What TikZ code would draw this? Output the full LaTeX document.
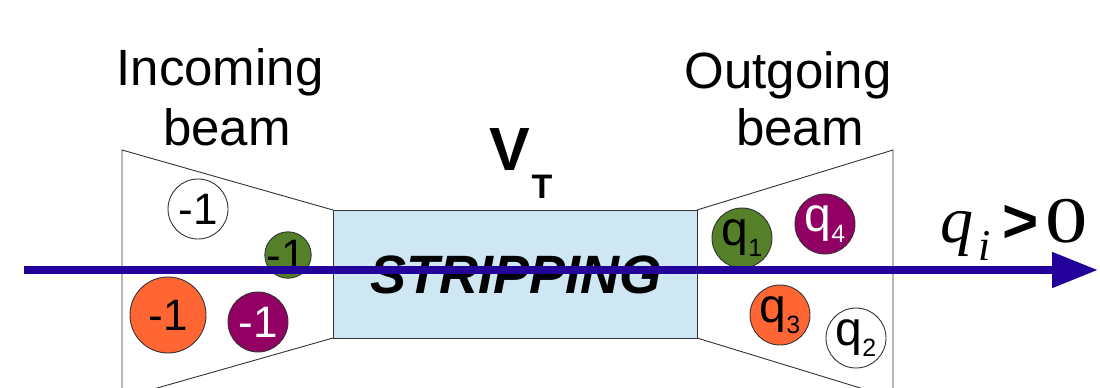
\documentclass[tikz,border=0pt]{standalone}
\usepackage{fontspec}
\setmainfont{Liberation Sans}
\newfontfamily\timesf{Liberation Serif}
\usetikzlibrary{arrows.meta}
\definecolor{beamc}{RGB}{34,0,153}
\definecolor{boxc}{RGB}{207,230,243}
\definecolor{grn}{RGB}{85,127,40}
\definecolor{org}{RGB}{255,102,51}
\definecolor{pur}{RGB}{145,0,98}
\tikzset{
  outline/.style={draw=black!80, line width=0.9pt},
  ion/.style={circle, draw=black!80, line width=0.9pt, inner sep=0pt, font=\fontsize{44}{44}\selectfont},
  qion/.style={circle, draw=black!80, line width=0.9pt, inner sep=0pt, minimum size=60pt},
  label/.style={inner sep=0pt, anchor=base, font=\fontsize{51}{60}\selectfont},
}
\newcommand{\qsub}[1]{\fontsize{48}{48}\selectfont q\raisebox{-11pt}{\fontsize{25}{25}\selectfont #1}}
\begin{document}
\begin{tikzpicture}[x=1pt,y=-1pt]
\useasboundingbox (0,0) rectangle (1100,388);
\begin{scope}
\clip (0,0) rectangle (1100,388);
% left funnel
\draw[outline] (122,400) -- (122,150) -- (333,210);
\draw[outline] (333,338) -- (122,398);
% right funnel
\draw[outline] (697,210) -- (893,150) -- (893,400);
\draw[outline] (697,338) -- (893,398);
\end{scope}
% stripping box
\node[outline, fill=boxc, minimum width=364pt, minimum height=128pt, inner sep=0pt] (box) at (515,274) {};
\node[inner sep=0pt, anchor=base, font=\fontsize{54}{54}\selectfont\bfseries\itshape] (strip) at (516,293) {STRIPPING};
% labels
\node[label] (inc1) at (220,85) {Incoming};
\node[label] (inc2) at (227,145) {beam};
\node[label] (out1) at (788,88) {Outgoing};
\node[label] (out2) at (800,145) {beam};
\node[inner sep=0pt, anchor=base, font=\fontsize{61}{61}\selectfont\bfseries] (V) at (510,170) {V};
\node[inner sep=0pt, anchor=base, font=\fontsize{34}{34}\selectfont\bfseries] (T) at (542,198) {T};
% incoming ions
\node[ion, fill=white, minimum size=60pt] (a1) at (198,209) {-1};
\node[ion, fill=grn, minimum size=44pt] (a2) at (288,255) {\hspace*{-4pt}-1};
\node[ion, fill=org, minimum size=76pt] (a3) at (168,315) {-1};
\node[ion, fill=pur, text=white, minimum size=60pt] (a4) at (258,322) {-1};
% outgoing ions
\node[qion, fill=grn] (b1) at (742,238) {\qsub{1}};
\node[qion, fill=pur, text=white] (b4) at (825,224) {\qsub{4}};
\node[qion, fill=org] (b3) at (780,315) {\qsub{3}};
\node[qion, fill=white] (b2) at (856,338) {\qsub{2}};
% beam
\coordinate (bs) at (24,270);
\coordinate (be) at (1098,270);
\draw[beamc, line width=8pt, -{Triangle[length=46pt,width=34pt]}] (bs) -- (be);
% q_i > 0
\node[inner sep=0pt, anchor=base west, font=\fontsize{66}{66}\timesf\itshape] (q) at (940,242) {q};
\node[inner sep=0pt, anchor=base west, font=\fontsize{44}{44}\timesf\itshape] (i) at (978,260) {i};
\node[inner sep=0pt, anchor=base west, font=\fontsize{62}{62}\selectfont\bfseries] (gt) at (1002,242) {>};
\node[inner sep=0pt, anchor=base west, font=\fontsize{65}{65}\timesf] (zero) at (1045,242) {\scalebox{1.3}[1]{0}};
\end{tikzpicture}
\end{document}
